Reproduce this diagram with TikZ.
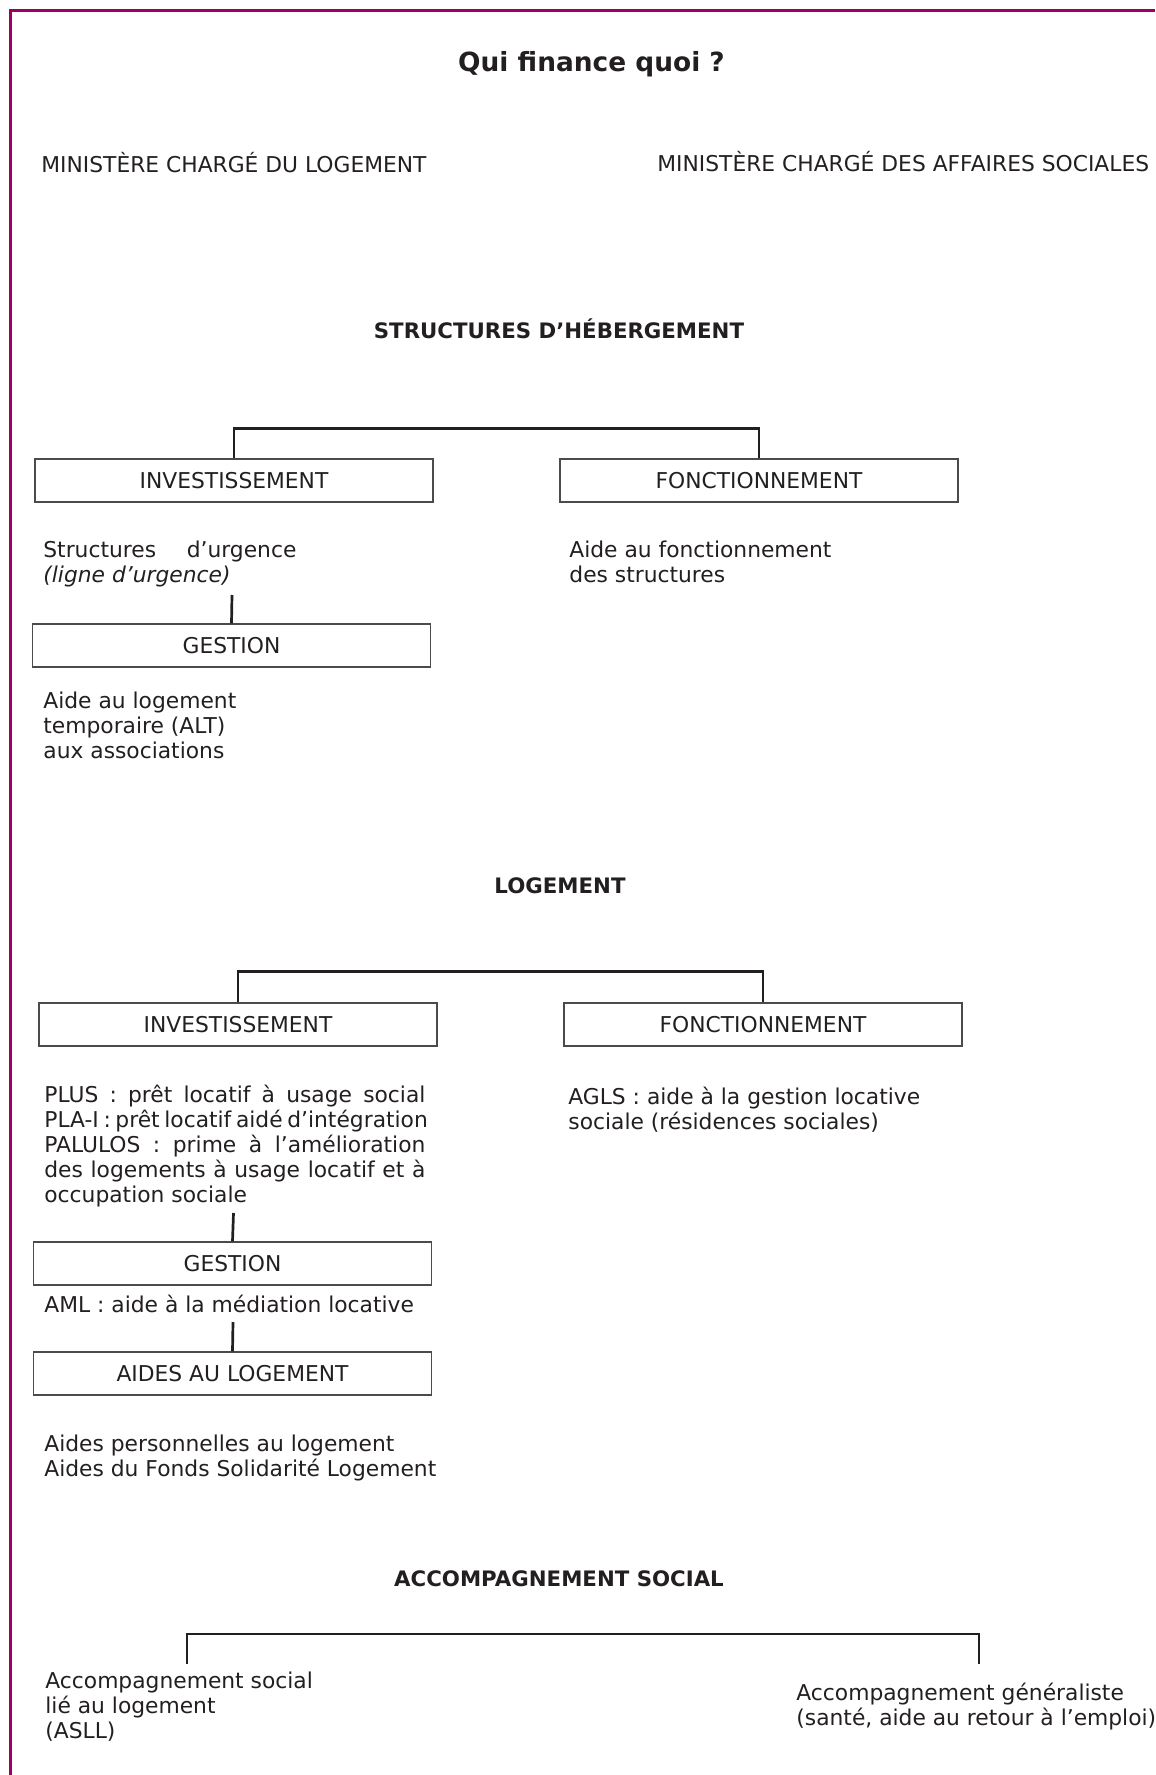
\documentclass[tikz,border=0pt]{standalone}
\usepackage{fontspec}
\setmainfont{DejaVu Sans}
\usepackage{xcolor}

\definecolor{framecol}{RGB}{158,0,98}
\definecolor{inkcol}{RGB}{35,31,32}
\definecolor{boxcol}{RGB}{75,75,75}

\newcommand{\txtfont}{\fontsize{10.9pt}{12.5pt}\selectfont}
\newcommand{\hdfont}{\fontsize{10.65pt}{12.5pt}\selectfont\bfseries}
\newcommand{\ttlfont}{\fontsize{13.2pt}{15pt}\selectfont\bfseries}

\tikzset{
    ttl/.style={anchor=base, inner sep=0pt, text=inkcol, font=\ttlfont},
    hd/.style={anchor=base, inner sep=0pt, text=inkcol, font=\hdfont},
    txt/.style={anchor=base west, inner sep=0pt, align=left, text=inkcol, font=\txtfont},
    lbox/.style={draw=boxcol, line width=0.65pt, minimum width=199pt, minimum height=21.5pt,
                 inner sep=0pt, text height=7.95pt, text depth=0pt, text=inkcol, font=\txtfont},
    brk/.style={draw=inkcol, line width=1.35pt}
}

\begin{document}
\begin{tikzpicture}[x=0.5pt,y=-0.5pt]
\useasboundingbox (0,0) rectangle (1155,1775);
\draw[framecol, line width=1.5pt] (10.7,1775) -- (10.7,11) -- (1155,11);

% headings
\node[ttl] (titre) at (591.5,72) {Qui finance quoi ?};
\node[txt] (minlog) at (41,173) {MINISTÈRE CHARGÉ DU LOGEMENT};
\node[txt] (minsoc) at (657,172) {MINISTÈRE CHARGÉ DES AFFAIRES SOCIALES};
\node[hd] (heberg) at (559,339) {STRUCTURES D'HÉBERGEMENT};
\node[hd] (logt) at (560,893) {LOGEMENT};
\node[hd] (accomp) at (559,1586) {ACCOMPAGNEMENT SOCIAL};

% boxes
\begin{scope}[every node/.style={lbox}]
    \node (inv1) at (234,480.5) {INVESTISSEMENT};
    \node (fonc1) at (759,480.5) {FONCTIONNEMENT};
    \node (gest1) at (231.5,645.5) {GESTION};
    \node (inv2) at (238,1024.5) {INVESTISSEMENT};
    \node (fonc2) at (763,1024.5) {FONCTIONNEMENT};
    \node (gest2) at (232.5,1263.5) {GESTION};
    \node (aides) at (232.5,1373.5) {AIDES AU LOGEMENT};
\end{scope}

% texts (base = last line)
\begin{scope}[every node/.style={txt}]
    \node (urg) at (43,582) {\makebox[126.5pt][s]{Structures d'urgence}\\\textit{(ligne d'urgence)}};
    \node (aidef) at (569,582) {Aide au fonctionnement\\des structures};
    \node (alt) at (43,758) {Aide au logement\\temporaire (ALT)\\aux associations};
    \node (prets) at (44,1202) {\makebox[190.5pt][s]{PLUS : prêt locatif à usage social}\\
        \makebox[190.5pt][s]{PLA-I : prêt locatif aidé d'intégration}\\
        \makebox[190.5pt][s]{PALULOS : prime à l'amélioration}\\
        \makebox[190.5pt][s]{des logements à usage locatif et à}\\
        occupation sociale};
    \node (agls) at (568,1129) {AGLS : aide à la gestion locative\\sociale (résidences sociales)};
    \node (aml) at (44,1312) {AML : aide à la médiation locative};
    \node (perso) at (44,1476) {Aides personnelles au logement\\Aides du Fonds Solidarité Logement};
    \node (asll) at (45,1738) {Accompagnement social\\lié au logement\\(ASLL)};
    \node (gen) at (796,1725) {Accompagnement généraliste\\(santé, aide au retour à l'emploi)};
\end{scope}

% connectors
\coordinate (u1) at (232,595);
\coordinate (u2) at (233.5,1213);
\coordinate (u3) at (233,1322);
\coordinate (legL) at (187,1664);
\coordinate (legR) at (979,1664);
\begin{scope}[every path/.style={brk}]
    \draw (inv1.north) -- ++(0,-30) -| (fonc1.north);
    \draw (inv2.north) -- ++(0,-31) -| (fonc2.north);
    \draw (legL) -- ++(0,-30) -| (legR);
    \draw (u1) -- (gest1.north);
    \draw (u2) -- (gest2.north);
    \draw (u3) -- (aides.north);
\end{scope}
\end{tikzpicture}
\end{document}
